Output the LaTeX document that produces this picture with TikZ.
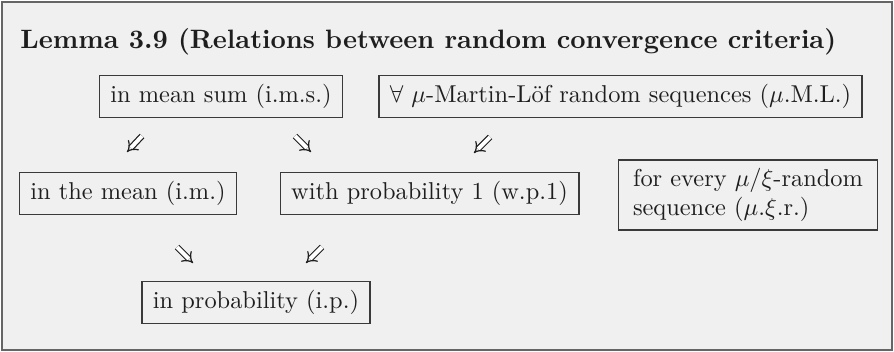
\documentclass[tikz,border=0pt]{standalone}
\usepackage{fontspec}
\usetikzlibrary{arrows.meta}
\definecolor{bg}{HTML}{F0F0F0}
\definecolor{framec}{HTML}{656565}
\definecolor{boxc}{HTML}{3A3A3A}
\definecolor{txt}{HTML}{1E1E1E}
\begin{document}
\begin{tikzpicture}[x=0.41pt,y=-0.41pt,
  box/.style={draw=boxc, line width=0.6pt, inner xsep=4.5pt, inner ysep=3.6pt,
    text height=7.5pt, text depth=2.5pt, text=txt, font=\fontsize{10}{12}\selectfont},
  multibox/.style={draw=boxc, line width=0.6pt, inner xsep=6pt, inner ysep=3.4pt,
    text=txt, align=left, font=\fontsize{10}{12}\selectfont},
  imp/.style={draw=txt, double, double distance=1.6pt, line width=0.5pt, -{Implies}}]
\useasboundingbox (0,0) rectangle (894,352);
\fill[white] (0,0) rectangle (894,352);
\draw[fill=bg, draw=framec, line width=0.8pt] (2,2) rectangle (892,350);
\node[anchor=base west, inner sep=0, text=txt, font=\fontsize{10.9}{13}\selectfont\bfseries] (T) at (20,49)
  {Lemma 3.9 (Relations between random convergence criteria)};
\node[box] (A) at (221,96.5) {in mean sum (i.m.s.)};
\node[box] (B) at (620.5,96.5) {$\forall$ $\mu$-Martin-L\"of random sequences ($\mu$.M.L.)};
\node[box] (C) at (128,193.5) {in the mean (i.m.)};
\node[box] (D) at (429.5,193.5) {with probability 1 (w.p.1)};
\node[box] (E) at (256,302.5) {in probability (i.p.)};
\node[multibox] (F) at (748,195) {for every $\mu/\xi$-random\\sequence ($\mu.\xi$.r.)};
% implication arrows
\coordinate (a1s) at (142,136); \coordinate (a1e) at (127,152);
\coordinate (a2s) at (295,136); \coordinate (a2e) at (311,152);
\coordinate (a3s) at (490,137); \coordinate (a3e) at (474,153);
\coordinate (a4s) at (177,247); \coordinate (a4e) at (193,263);
\coordinate (a5s) at (322,247); \coordinate (a5e) at (306,263);
\draw[imp] (a1s) -- (a1e);
\draw[imp] (a2s) -- (a2e);
\draw[imp] (a3s) -- (a3e);
\draw[imp] (a4s) -- (a4e);
\draw[imp] (a5s) -- (a5e);
\end{tikzpicture}
\end{document}
